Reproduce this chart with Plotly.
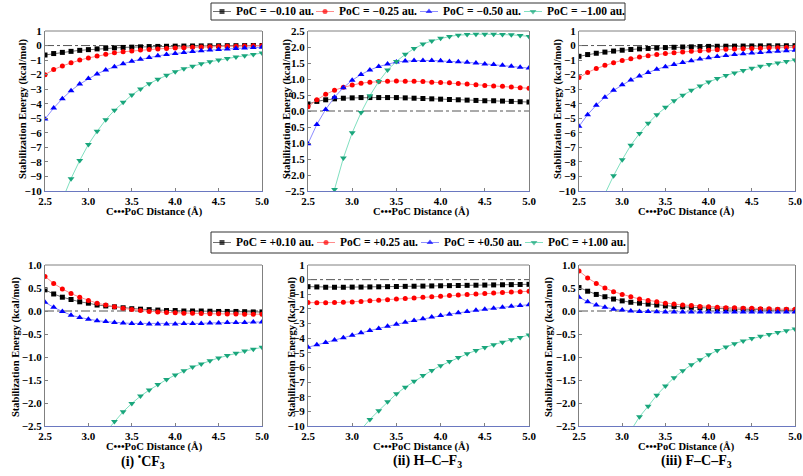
import plotly.graph_objects as go

x = [2.5, 2.6, 2.7, 2.8, 2.9, 3.0, 3.1, 3.2, 3.3, 3.4, 3.5, 3.6, 3.7, 3.8, 3.9,
     4.0, 4.1, 4.2, 4.3, 4.4, 4.5, 4.6, 4.7, 4.8, 4.9, 5.0]

# (i) CF3, negative PoC
cf3_n010 = [-0.65, -0.55, -0.47, -0.40, -0.33, -0.28, -0.23, -0.19, -0.16, -0.13, -0.11, -0.09, -0.07,
            -0.06, -0.05, -0.04, -0.035, -0.03, -0.025, -0.02, -0.015, -0.01, -0.01, -0.005, 0.0, 0.0]
cf3_n025 = [-2.0, -1.65, -1.40, -1.18, -1.00, -0.85, -0.72, -0.60, -0.50, -0.43, -0.37, -0.31, -0.27,
            -0.23, -0.20, -0.17, -0.15, -0.12, -0.10, -0.08, -0.07, -0.05, -0.04, -0.03, -0.02, -0.01]
cf3_n050 = [-5.05, -4.30, -3.65, -3.10, -2.65, -2.27, -1.95, -1.68, -1.45, -1.25, -1.08, -0.94, -0.82,
            -0.71, -0.62, -0.54, -0.47, -0.41, -0.36, -0.31, -0.27, -0.23, -0.20, -0.17, -0.14, -0.12]
cf3_n100 = [None, None, -10.6, -9.15, -7.9, -6.8, -5.9, -5.1, -4.45, -3.9, -3.4, -2.98, -2.62,
            -2.32, -2.05, -1.80, -1.60, -1.42, -1.26, -1.12, -1.00, -0.89, -0.79, -0.70, -0.62, -0.52]

# (ii) H-C-F3, negative PoC
hcf3_n010 = [0.22, 0.30, 0.35, 0.38, 0.40, 0.41, 0.42, 0.42, 0.42, 0.42, 0.42, 0.41, 0.40,
             0.39, 0.38, 0.37, 0.36, 0.35, 0.34, 0.33, 0.32, 0.32, 0.31, 0.30, 0.29, 0.28]
hcf3_n025 = [0.13, 0.35, 0.52, 0.65, 0.74, 0.81, 0.87, 0.90, 0.92, 0.93, 0.94, 0.93, 0.93,
             0.92, 0.90, 0.89, 0.88, 0.86, 0.84, 0.82, 0.80, 0.78, 0.77, 0.75, 0.73, 0.71]
hcf3_n050 = [-1.02, -0.42, 0.05, 0.43, 0.73, 0.96, 1.14, 1.28, 1.39, 1.47, 1.53, 1.56, 1.58,
             1.58, 1.58, 1.57, 1.55, 1.54, 1.52, 1.50, 1.47, 1.45, 1.43, 1.40, 1.37, 1.34]
hcf3_n100 = [None, None, -3.6, -2.45, -1.47, -0.68, -0.05, 0.48, 0.92, 1.28, 1.55, 1.77, 1.95,
             2.09, 2.19, 2.27, 2.33, 2.37, 2.39, 2.40, 2.40, 2.40, 2.39, 2.38, 2.36, 2.33]

# (iii) F-C-F3, negative PoC
fcf3_n010 = [-0.74, -0.62, -0.53, -0.45, -0.38, -0.32, -0.27, -0.23, -0.20, -0.17, -0.14, -0.12, -0.10,
             -0.09, -0.07, -0.06, -0.05, -0.045, -0.04, -0.035, -0.03, -0.025, -0.02, -0.02, -0.015, -0.01]
fcf3_n025 = [-2.2, -1.85, -1.58, -1.36, -1.18, -1.02, -0.90, -0.79, -0.70, -0.62, -0.55, -0.49, -0.44,
             -0.40, -0.36, -0.32, -0.29, -0.26, -0.24, -0.22, -0.20, -0.18, -0.16, -0.15, -0.14, -0.12]
fcf3_n050 = [-5.55, -4.75, -4.10, -3.55, -3.08, -2.70, -2.37, -2.10, -1.85, -1.63, -1.45, -1.30, -1.16,
             -1.04, -0.93, -0.84, -0.76, -0.69, -0.62, -0.57, -0.52, -0.47, -0.43, -0.39, -0.36, -0.33]
fcf3_n100 = [None, None, None, -10.2, -8.95, -7.85, -6.85, -6.05, -5.35, -4.75, -4.25, -3.80, -3.42,
             -3.08, -2.78, -2.50, -2.27, -2.06, -1.88, -1.71, -1.56, -1.43, -1.31, -1.20, -1.10, -1.00]

# (i) CF3, positive PoC
cf3_p010 = [0.46, 0.37, 0.30, 0.25, 0.20, 0.17, 0.13, 0.11, 0.09, 0.07, 0.05, 0.04, 0.03,
            0.02, 0.01, 0.01, 0.0, 0.0, 0.0, -0.005, -0.01, -0.01, -0.01, -0.015, -0.02, -0.02]
cf3_p025 = [0.75, 0.60, 0.48, 0.38, 0.30, 0.23, 0.17, 0.13, 0.09, 0.06, 0.03, 0.01, -0.01,
            -0.02, -0.03, -0.04, -0.05, -0.05, -0.055, -0.06, -0.06, -0.065, -0.065, -0.07, -0.07, -0.07]
cf3_p050 = [0.19, 0.08, -0.01, -0.09, -0.14, -0.18, -0.21, -0.23, -0.25, -0.26, -0.27, -0.27, -0.28,
            -0.28, -0.28, -0.28, -0.27, -0.27, -0.27, -0.26, -0.26, -0.25, -0.25, -0.25, -0.24, -0.24]
cf3_p100 = [None, None, None, None, None, None, None, -2.63, -2.40, -2.19, -2.01, -1.85, -1.72,
            -1.60, -1.49, -1.39, -1.30, -1.22, -1.15, -1.08, -1.02, -0.97, -0.92, -0.87, -0.83, -0.79]

# (ii) H-C-F3, positive PoC
hcf3_p010 = [-0.48, -0.50, -0.52, -0.52, -0.52, -0.51, -0.51, -0.50, -0.49, -0.48, -0.47, -0.46, -0.45,
             -0.44, -0.43, -0.42, -0.41, -0.40, -0.39, -0.38, -0.37, -0.36, -0.35, -0.34, -0.33, -0.32]
hcf3_p025 = [-1.57, -1.58, -1.58, -1.57, -1.55, -1.52, -1.49, -1.45, -1.41, -1.37, -1.33, -1.29, -1.25,
             -1.21, -1.17, -1.13, -1.09, -1.05, -1.01, -0.98, -0.94, -0.91, -0.88, -0.85, -0.82, -0.80]
hcf3_p050 = [-4.62, -4.45, -4.30, -4.13, -3.97, -3.80, -3.63, -3.48, -3.33, -3.18, -3.05, -2.92, -2.80,
             -2.68, -2.56, -2.45, -2.36, -2.27, -2.18, -2.10, -2.03, -1.96, -1.89, -1.82, -1.76, -1.71]
hcf3_p100 = [None, None, None, None, None, None, -10.25, -9.55, -8.95, -8.35, -7.80, -7.35, -6.95,
             -6.55, -6.20, -5.88, -5.60, -5.32, -5.07, -4.84, -4.63, -4.45, -4.27, -4.10, -3.95, -3.78]

# (iii) F-C-F3, positive PoC
fcf3_p010 = [0.51, 0.43, 0.36, 0.31, 0.26, 0.22, 0.19, 0.17, 0.15, 0.13, 0.11, 0.10, 0.09,
             0.08, 0.07, 0.06, 0.05, 0.05, 0.04, 0.04, 0.03, 0.03, 0.02, 0.02, 0.02, 0.01]
fcf3_p025 = [0.87, 0.72, 0.60, 0.50, 0.42, 0.36, 0.31, 0.26, 0.23, 0.20, 0.17, 0.15, 0.13,
             0.12, 0.10, 0.09, 0.08, 0.07, 0.07, 0.06, 0.06, 0.05, 0.05, 0.04, 0.04, 0.04]
fcf3_p050 = [0.30, 0.20, 0.13, 0.08, 0.04, 0.02, 0.0, -0.01, -0.01, -0.015, -0.02, -0.02, -0.02,
             -0.02, -0.02, -0.02, -0.02, -0.02, -0.02, -0.02, -0.02, -0.02, -0.02, -0.02, -0.02, -0.02]
fcf3_p100 = [None, None, None, None, None, None, -2.6, -2.30, -2.07, -1.83, -1.63, -1.45, -1.30,
             -1.17, -1.06, -0.95, -0.86, -0.78, -0.71, -0.65, -0.60, -0.55, -0.51, -0.47, -0.43, -0.39]

neg_names = ["PoC = \u22120.10 au.", "PoC = \u22120.25 au.", "PoC = \u22120.50 au.", "PoC = \u22121.00 au."]
pos_names = ["PoC = +0.10 au.", "PoC = +0.25 au.", "PoC = +0.50 au.", "PoC = +1.00 au."]
captions = ["(i) <sup>\u2022</sup>CF<sub>3</sub>", "(ii) H\u2013C\u2013F<sub>3</sub>", "(iii) F\u2013C\u2013F<sub>3</sub>"]
x_title = "C\u2022\u2022\u2022PoC Distance (\u00c5)"
y_title = "Stabilization Energy (kcal/mol)"

marker_colors = ["#000000", "#ff0000", "#0000ff", "#1aa67c"]
line_colors = ["#707070", "#ff8c8c", "#8c8cff", "#80e0c0"]
symbols = ["square", "circle", "triangle-up", "triangle-down"]

panels = [
    dict(series=[cf3_n010, cf3_n025, cf3_n050, cf3_n100], names=neg_names, yr=[-10, 1], dt=1, fmt="d"),
    dict(series=[hcf3_n010, hcf3_n025, hcf3_n050, hcf3_n100], names=neg_names, yr=[-2.5, 2.5], dt=0.5, fmt=".1f"),
    dict(series=[fcf3_n010, fcf3_n025, fcf3_n050, fcf3_n100], names=neg_names, yr=[-10, 1], dt=1, fmt="d"),
    dict(series=[cf3_p010, cf3_p025, cf3_p050, cf3_p100], names=pos_names, yr=[-2.5, 1.0], dt=0.5, fmt=".1f"),
    dict(series=[hcf3_p010, hcf3_p025, hcf3_p050, hcf3_p100], names=pos_names, yr=[-10, 1], dt=1, fmt="d"),
    dict(series=[fcf3_p010, fcf3_p025, fcf3_p050, fcf3_p100], names=pos_names, yr=[-2.5, 1.0], dt=0.5, fmt=".1f"),
]

# ---- layout geometry (pixels) ----
W, H = 803, 476
xdoms_px = [(45, 262), (308, 529), (579, 795)]
ydoms_px = [(31, 191), (265, 426)]
xtitle_x = [154, 421, 686]
xtitle_y = [212, 447]
ytitle_x = [[23, 287, 558], [16, 292, 549]]
ytitle_y = [109, 347]
caption_x = [143, 427, 696]
caption_y = 461
legend_box = [(211, 625, 3, 20), (211, 628, 232, 253)]
legend_key_x = [[213, 316, 420, 524], [213, 317, 421, 525]]

FONT = "Liberation Serif, Times New Roman, Times, serif"
fig = go.Figure()
layout = {}
shapes = []
annotations = []

def px_x(v):
    return v / W

def px_y(v):
    return 1 - v / H

for i, p in enumerate(panels):
    row, col = divmod(i, 3)
    n = i + 1
    xa = "x" if n == 1 else f"x{n}"
    ya = "y" if n == 1 else f"y{n}"
    xkey = "xaxis" if n == 1 else f"xaxis{n}"
    ykey = "yaxis" if n == 1 else f"yaxis{n}"
    x0, x1 = xdoms_px[col]
    yt, yb = ydoms_px[row]
    fig.add_trace(go.Scatter(x=[2.5, 5.0], y=[0, 0], mode="lines", xaxis=xa, yaxis=ya,
                             line=dict(color="#555555", width=1, dash="dashdot"),
                             showlegend=False, hoverinfo="skip"))
    for k in range(4):
        fig.add_trace(go.Scatter(
            x=x, y=p["series"][k], mode="lines+markers", name=p["names"][k],
            xaxis=xa, yaxis=ya, showlegend=False,
            line=dict(color=line_colors[k], width=1),
            marker=dict(symbol=symbols[k], color=marker_colors[k], size=5 if k < 2 else 6,
                        line=dict(width=0)),
            connectgaps=False,
        ))
    layout[xkey] = dict(domain=[px_x(x0), px_x(x1)], anchor=ya, range=[2.5, 5.0], dtick=0.5, tick0=2.5,
                        tickformat=".1f", showline=True, linecolor="#6a78c0", linewidth=1,
                        mirror=False, ticks="inside", ticklen=3, tickcolor="#808080",
                        showgrid=False, zeroline=False, automargin=False,
                        tickfont=dict(family=FONT, size=11, color="black", weight="bold"))
    layout[ykey] = dict(domain=[px_y(yb), px_y(yt)], anchor=xa, range=p["yr"], dtick=p["dt"],
                        tickformat=p["fmt"], showline=True, linecolor="#808080", linewidth=1,
                        mirror=True, ticks="inside", ticklen=3, tickcolor="#808080",
                        showgrid=False, zeroline=False, automargin=False,
                        tickfont=dict(family=FONT, size=11, color="black", weight="bold"))
    shapes.append(dict(type="line", xref=f"{xa} domain", yref=f"{ya} domain", x0=0, x1=1, y0=1, y1=1,
                       line=dict(color="#808080", width=1)))
    annotations.append(dict(text=x_title, x=px_x(xtitle_x[col]), y=px_y(xtitle_y[row]), xref="paper",
                            yref="paper", showarrow=False, xanchor="center", yanchor="middle",
                            font=dict(family=FONT, size=10.5, color="black", weight="bold")))
    annotations.append(dict(text=y_title, x=px_x(ytitle_x[row][col]), y=px_y(ytitle_y[row]), xref="paper",
                            yref="paper", showarrow=False, xanchor="center", yanchor="middle", textangle=-90,
                            font=dict(family=FONT, size=10.5, color="black", weight="bold")))

for c in range(3):
    annotations.append(dict(text=captions[c], x=px_x(caption_x[c]), y=px_y(caption_y), xref="paper",
                            yref="paper", showarrow=False, xanchor="center", yanchor="middle",
                            font=dict(family=FONT, size=14, color="black", weight="bold")))

# ---- legends (keys drawn on a full-page overlay axis in pixel units) ----
for r, names in enumerate([neg_names, pos_names]):
    bx0, bx1, by0, by1 = legend_box[r]
    shapes.append(dict(type="rect", xref="paper", yref="paper", x0=px_x(bx0), x1=px_x(bx1),
                       y0=px_y(by1), y1=px_y(by0), line=dict(color="#333333", width=1),
                       fillcolor="rgba(0,0,0,0)", layer="below"))
    cy = (by0 + by1) / 2
    for k in range(4):
        lx = legend_key_x[r][k]
        fig.add_trace(go.Scatter(x=[lx, lx + 9, lx + 18], y=[cy, cy, cy], mode="lines+markers",
                                 xaxis="x7", yaxis="y7", showlegend=False, hoverinfo="skip", cliponaxis=False,
                                 line=dict(color=line_colors[k], width=1),
                                 marker=dict(symbol=symbols[k], color=marker_colors[k],
                                             size=[0, 5 if k < 2 else 6, 0], line=dict(width=0))))
        annotations.append(dict(text=names[k], x=px_x(lx + 21), y=px_y(cy - 0.5), xref="paper", yref="paper",
                                showarrow=False, xanchor="left", yanchor="middle",
                                font=dict(family=FONT, size=11.5, color="black", weight="bold")))

layout["xaxis7"] = dict(domain=[0, 1], range=[0, W], visible=False, anchor="y7", fixedrange=True)
layout["yaxis7"] = dict(domain=[0, 1], range=[H, 0], visible=False, anchor="x7", fixedrange=True)

fig.update_layout(width=W, height=H, margin=dict(l=0, r=0, t=0, b=0, autoexpand=False),
                  paper_bgcolor="white", plot_bgcolor="rgba(0,0,0,0)", showlegend=False,
                  shapes=shapes, annotations=annotations, **layout)

fig.write_html("out.html", config={"displayModeBar": False},
               post_script="document.body.style.margin='0px';")
